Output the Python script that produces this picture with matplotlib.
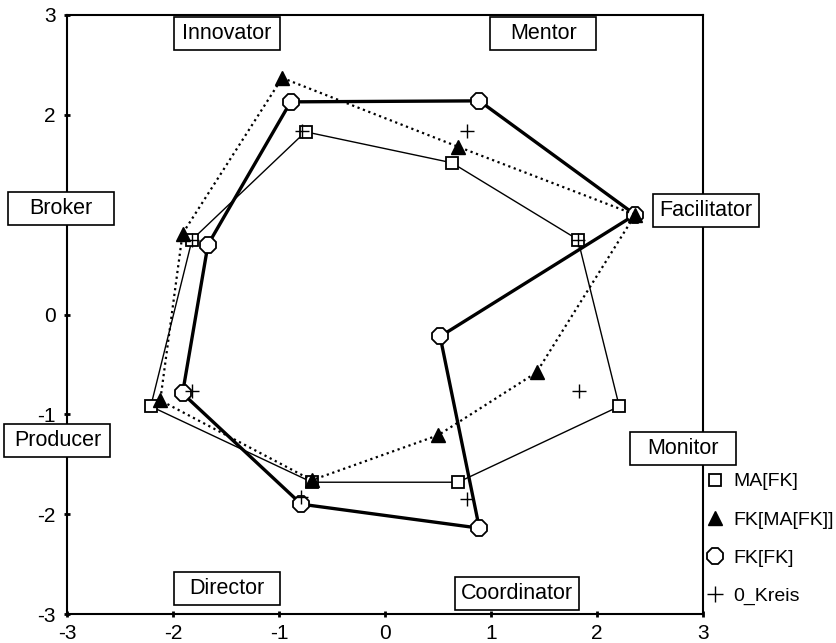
import matplotlib
matplotlib.use("Agg")
import matplotlib.pyplot as plt
from matplotlib.patches import Rectangle
from matplotlib.lines import Line2D

plt.rcParams['font.family'] = ['Liberation Sans', 'DejaVu Sans']

roles = ["Innovator", "Mentor", "Facilitator", "Monitor",
         "Coordinator", "Director", "Producer", "Broker"]

ma_fk_x = [-0.75, 0.63, 1.82, 2.21, 0.69, -0.69, -2.21, -1.82]
ma_fk_y = [1.83, 1.52, 0.75, -0.92, -1.68, -1.68, -0.92, 0.75]

fk_ma_x = [-0.97, 0.69, 2.36, 1.43, 0.50, -0.69, -2.12, -1.91]
fk_ma_y = [2.37, 1.68, 1.00, -0.58, -1.21, -1.66, -0.86, 0.81]

fk_fk_x = [-0.89, 0.89, 2.36, 0.52, 0.89, -0.79, -1.91, -1.67]
fk_fk_y = [2.13, 2.14, 1.00, -0.22, -2.14, -1.90, -0.79, 0.70]

kreis_x = [-0.78, 0.77, 1.82, 1.83, 0.77, -0.79, -1.82, -1.82]
kreis_y = [1.84, 1.84, 0.75, -0.77, -1.85, -1.83, -0.77, 0.75]

label_x = [-1.495, 1.495, 3.03, 2.81, 1.245, -1.495, -3.09, -3.06]
label_y = [2.815, 2.815, 1.04, -1.345, -2.795, -2.745, -1.265, 1.065]
label_w = [1.0, 1.0, 1.0, 1.0, 1.17, 1.0, 1.0, 1.0]

xticks = [-3, -2, -1, 0, 1, 2, 3]
yticks = [-3, -2, -1, 0, 2, 3]

fig = plt.figure(figsize=(8.37, 6.43), dpi=100)
ax = fig.add_axes([67/837, 1-614/643, 636/837, 599/643])
ax.set_xlim(-3, 3)
ax.set_ylim(-3, 3)

def closed(v):
    return list(v) + [v[0]]

# FK[FK] thick solid with octagons
ax.plot(closed(fk_fk_x), closed(fk_fk_y), color='black', lw=2.4, zorder=2)
ax.plot(fk_fk_x, fk_fk_y, ls='none', marker='8', ms=12.5, mfc='white',
        mec='black', mew=1.3, zorder=3)
# MA[FK] thin solid with squares
ax.plot(closed(ma_fk_x), closed(ma_fk_y), color='black', lw=1.0, zorder=4)
ax.plot(ma_fk_x, ma_fk_y, ls='none', marker='s', ms=8.5, mfc='white',
        mec='black', mew=1.3, zorder=5)
# FK[MA[FK]] dotted with triangles
ax.plot(closed(fk_ma_x), closed(fk_ma_y), color='black', lw=1.6,
        ls=(0, (1, 1.6)), zorder=6)
ax.plot(fk_ma_x, fk_ma_y, ls='none', marker='^', ms=9.5, mfc='black',
        mec='black', zorder=7)
# 0_Kreis plus markers only
ax.plot(kreis_x, kreis_y, ls='none', marker='+', ms=10, mec='black',
        mew=1.0, zorder=8)

# role label boxes
for name, cx, cy, w in zip(roles, label_x, label_y, label_w):
    h = 0.33
    rect = Rectangle((cx - w/2, cy - h/2), w, h, facecolor='white',
                     edgecolor='black', lw=1.2, zorder=20, clip_on=False)
    ax.add_patch(rect)
    ax.text(cx, cy, name, ha='center', va='center', fontsize=15.5,
            zorder=21, clip_on=False)

ax.set_xticks(xticks)
ax.set_yticks(yticks)
ax.set_xticklabels([str(t) for t in xticks], fontsize=15)
ax.set_yticklabels([str(t) for t in yticks], fontsize=15)
ax.tick_params(direction='inout', length=4, width=2)
ax.tick_params(axis='y', pad=6)
ax.tick_params(axis='x', pad=5)
for s in ax.spines.values():
    s.set_linewidth(1.5)

handles = [
    Line2D([], [], ls='none', marker='s', ms=9, mfc='white', mec='black', mew=1.3),
    Line2D([], [], ls='none', marker='^', ms=10, mfc='black', mec='black'),
    Line2D([], [], ls='none', marker='8', ms=12, mfc='white', mec='black', mew=1.3),
    Line2D([], [], ls='none', marker='+', ms=12, mec='black', mew=1.0),
]
fig.legend(handles, ["MA[FK]", "FK[MA[FK]]", "FK[FK]", "0_Kreis"],
           loc='upper left', bbox_to_anchor=(701/837, 1-469/643),
           frameon=False, fontsize=14, handlelength=1.0, handletextpad=0.45,
           labelspacing=1.05, borderpad=0.2, borderaxespad=0)

fig.savefig("out.png", dpi=100)
